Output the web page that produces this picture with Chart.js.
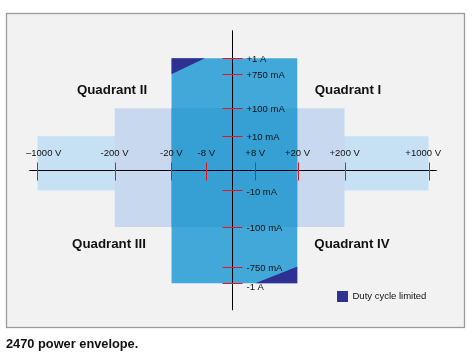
<!DOCTYPE html>
<html><head><meta charset="utf-8">
<style>html,body{margin:0;padding:0;background:#fff;} canvas{display:block;}</style>
<script src="https://cdn.jsdelivr.net/npm/chart.js@4/dist/chart.umd.min.js"></script>
</head><body>
<canvas id="c" width="473" height="356"></canvas>
<script>
// ---- Data ----
const voltageTicks = [-1000, -200, -20, -8, 8, 20, 200, 1000];           // V
const voltageLabels = ['\u20131000 V', '-200 V', '-20 V', '-8 V', '+8 V', '+20 V', '+200 V', '+1000 V'];
const currentTicks = [1000, 750, 100, 10, -10, -100, -750, -1000];       // mA
const currentLabels = ['+1 A', '+750 mA', '+100 mA', '+10 mA', '-10 mA', '-100 mA', '-750 mA', '-1 A'];
// Envelope steps: max |V| and max |I| (mA)
const envelopeVoltage = [1000, 200, 20];
const envelopeCurrent = [10, 100, 1000];
// Duty-cycle-limited corners (V, mA)
const dutyTopV = [-20, -8.5];
const dutyTopI = [750, 1000];
const dutyBottomV = [8, 20];
const dutyBottomI = [-1000, -750];
const quadrantNames = ['Quadrant I', 'Quadrant II', 'Quadrant III', 'Quadrant IV'];
const legendLabel = 'Duty cycle limited';
const caption = '2470 power envelope.';

// ---- Piecewise (schematic) scale ----
class PiecewiseScale extends Chart.LinearScale {
  static id = 'piecewise';
  _frac(value) {
    const a = this.options.anchors;
    if (value <= a[0][0]) {
      const [v0, f0] = a[0], [v1, f1] = a[1];
      return f0 + (value - v0) * (f1 - f0) / (v1 - v0);
    }
    for (let i = 1; i < a.length; i++) {
      if (value <= a[i][0]) {
        const [v0, f0] = a[i - 1], [v1, f1] = a[i];
        return f0 + (value - v0) * (f1 - f0) / (v1 - v0);
      }
    }
    const [v0, f0] = a[a.length - 2], [v1, f1] = a[a.length - 1];
    return f0 + (value - v0) * (f1 - f0) / (v1 - v0);
  }
  getPixelForValue(value) {
    const f = this._frac(value);
    return this.isHorizontal() ? this.left + f * this.width : this.bottom - f * this.height;
  }
  getValueForPixel(pixel) { return 0; }
}
Chart.register(PiecewiseScale);

const FONT = '"Liberation Sans", Arial, sans-serif';
const [vOuter, vMid, vInner] = envelopeVoltage;
const [iOuter, iMid, iInner] = envelopeCurrent;

function rect(vmax, imax, color, order) {
  return {
    data: [{x: -vmax, y: imax}, {x: vmax, y: imax}],
    fill: {value: -imax}, backgroundColor: color,
    borderWidth: 0, borderColor: 'rgba(0,0,0,0)', pointRadius: 0, order
  };
}

const datasets = [
  rect(vOuter, iOuter, '#c5e1f3', 6),
  rect(vMid, iMid, '#c8d9ef', 5),
  rect(vInner, iInner, '#41a8d9', 4),
  rect(Math.min(vInner, vMid), Math.min(iInner, iMid), '#36a0d5', 3),
  {
    data: dutyTopV.map((v, i) => ({x: v, y: dutyTopI[i]})),
    fill: {value: Math.max(...dutyTopI)}, backgroundColor: '#2e3192',
    borderWidth: 0, borderColor: 'rgba(0,0,0,0)', pointRadius: 0, order: 1
  },
  {
    data: dutyBottomV.map((v, i) => ({x: v, y: dutyBottomI[i]})),
    fill: {value: Math.min(...dutyBottomI)}, backgroundColor: '#2e3192',
    borderWidth: 0, borderColor: 'rgba(0,0,0,0)', pointRadius: 0, order: 1
  }
];

const decor = {
  id: 'decor',
  beforeDraw(chart) {
    const ctx = chart.ctx;
    ctx.save();
    ctx.fillStyle = '#ffffff';
    ctx.fillRect(0, 0, chart.width, chart.height);
    ctx.fillStyle = '#f2f2f2';
    ctx.fillRect(6, 13, 459, 315);
    ctx.strokeStyle = '#9a9a9a';
    ctx.lineWidth = 1.3;
    ctx.strokeRect(6.5, 13.5, 458, 314);
    ctx.restore();
  },
  afterDatasetsDraw(chart) {
    const ctx = chart.ctx;
    const xs = chart.scales.x, ys = chart.scales.y;
    const x0 = Math.round(xs.getPixelForValue(0)) + 0.5;
    const y0 = Math.round(ys.getPixelForValue(0)) + 0.5;
    const xl = xs.getPixelForValue(-vOuter) - 8, xr = xs.getPixelForValue(vOuter) + 8;
    const yt = ys.getPixelForValue(iInner) - 28, yb = ys.getPixelForValue(-iInner) + 27;
    ctx.save();
    // axes
    ctx.strokeStyle = '#000';
    ctx.lineWidth = 1;
    ctx.beginPath();
    ctx.moveTo(xl, y0); ctx.lineTo(xr, y0);
    ctx.moveTo(x0, yt); ctx.lineTo(x0, yb);
    ctx.stroke();
    // red ticks
    ctx.strokeStyle = '#e8141c';
    ctx.beginPath();
    voltageTicks.forEach(v => {
      const px = Math.round(xs.getPixelForValue(v)) + 0.5;
      ctx.moveTo(px, y0 - 8); ctx.lineTo(px, y0 + 10);
    });
    currentTicks.forEach(c => {
      const py = Math.round(ys.getPixelForValue(c)) + 0.5;
      ctx.moveTo(x0 - 10, py); ctx.lineTo(x0 + 10, py);
    });
    ctx.stroke();
    // tick labels
    ctx.fillStyle = '#111';
    ctx.font = '9.5px ' + FONT;
    ctx.textBaseline = 'middle';
    voltageTicks.forEach((v, i) => {
      const w = ctx.measureText(voltageLabels[i]).width;
      let left = xs.getPixelForValue(v) - w / 2;
      left = Math.max(26, Math.min(441 - w, left));
      ctx.textAlign = 'left';
      ctx.fillText(voltageLabels[i], left, y0 - 17);
    });
    currentTicks.forEach((c, i) => {
      const py = ys.getPixelForValue(c);
      ctx.textAlign = 'left';
      ctx.fillText(currentLabels[i], x0 + 14, py + (c === -iInner ? 4.5 : 1.5));
    });
    // quadrant labels
    ctx.font = 'bold 13.3px ' + FONT;
    ctx.textAlign = 'center';
    ctx.fillText(quadrantNames[0], 348, 90);
    ctx.fillText(quadrantNames[1], 112, 90);
    ctx.fillText(quadrantNames[2], 109, 244);
    ctx.fillText(quadrantNames[3], 352, 244);
    // legend
    ctx.fillStyle = '#2e3192';
    ctx.fillRect(337, 291, 11, 11);
    ctx.fillStyle = '#111';
    ctx.font = '9.5px ' + FONT;
    ctx.textAlign = 'left';
    ctx.fillText(legendLabel, 352.5, 296);
    // caption
    ctx.font = 'bold 12.8px ' + FONT;
    ctx.fillText(caption, 6, 344.5);
    ctx.restore();
  }
};

new Chart(document.getElementById('c'), {
  type: 'line',
  data: {datasets},
  options: {
    responsive: false,
    animation: false,
    events: [],
    layout: {padding: 0},
    plugins: {legend: {display: false}, tooltip: {enabled: false}, title: {display: false}},
    scales: {
      x: {
        type: 'piecewise', display: false,
        anchors: [[-1000, 0.0789], [-200, 0.2421], [-20, 0.3622], [-8, 0.4362], [0, 0.4911],
                  [8, 0.5397], [20, 0.6290], [200, 0.7288], [1000, 0.9063]]
      },
      y: {
        type: 'piecewise', display: false,
        anchors: [[-1000, 0.2042], [-750, 0.2514], [-100, 0.3624], [-10, 0.4649], [0, 0.5216],
                  [10, 0.6171], [100, 0.6958], [750, 0.7913], [1000, 0.8362]]
      }
    }
  },
  plugins: [decor]
});
</script>
</body></html>
